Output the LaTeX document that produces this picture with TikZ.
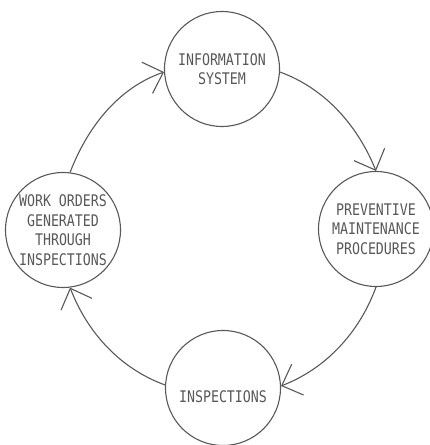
\documentclass[tikz,border=0pt]{standalone}
\usepackage{fontspec}
\newfontfamily\plotfont[FakeStretch=0.83]{DejaVu Sans Mono}
\usetikzlibrary{arrows.meta}
\definecolor{ink}{HTML}{585858}
\begin{document}
\begin{tikzpicture}[x=1pt,y=1pt,
  state/.style={circle,draw=ink,line width=1.1pt,minimum size=115pt,inner sep=0pt,
    align=center,text=ink,font=\plotfont\fontsize{16}{19.5}\selectfont},
  flow/.style={draw=ink,line width=1.1pt,looseness=0.9,
    -{Straight Barb[length=17pt,width=33pt,line width=1.1pt]}}]
\useasboundingbox (0,0) rectangle (430,445);
\node[state] (is) at (222,376) {INFORMATION\\SYSTEM};
\node[state] (pm) at (376,216) {PREVENTIVE\\MAINTENANCE\\PROCEDURES};
\node[state] (in) at (223,57) {\raisebox{-9pt}[\height][\depth]{INSPECTIONS}};
\node[state] (wo) at (63,215) {WORK ORDERS\\GENERATED\\THROUGH\\INSPECTIONS};
\draw[flow] (wo.83) to[out=69,in=199] (is.183);
\draw[flow] (is.357) to[out=-20,in=112] (pm.90);
\draw[flow] (pm.270) to[out=-110,in=21] (in.2);
\draw[flow] (in.177) to[out=160,in=291] (wo.277);
\end{tikzpicture}
\end{document}
